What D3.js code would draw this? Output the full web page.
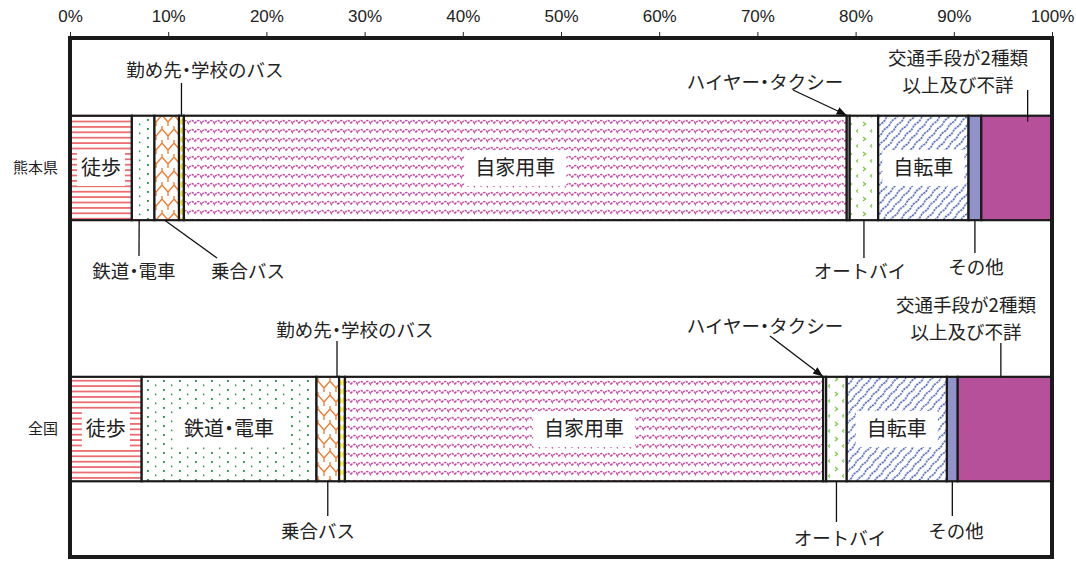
<!DOCTYPE html>
<html><head><meta charset="utf-8">
<script src="https://cdn.jsdelivr.net/npm/d3@7"></script>
<style>body{margin:0;background:#fff}svg{display:block}.jp{font-feature-settings:"halt" 1}</style>
</head><body><svg id="c" width="1076" height="565"></svg>
<script>
// ---- data ----
const regions = ["熊本県", "全国"];
const modes = ["徒歩", "鉄道・電車", "乗合バス", "勤め先・学校のバス", "自家用車", "ハイヤー・タクシー", "オートバイ", "自転車", "その他", "交通手段が2種類以上及び不詳"];
const kumamoto = [6.3, 2.3, 2.5, 0.5, 67.5, 0.3, 2.9, 9.2, 1.3, 7.2];
const zenkoku = [7.3, 17.8, 2.3, 0.6, 48.7, 0.3, 2.1, 10.2, 1.1, 9.6];
const tickValues = [0, 10, 20, 30, 40, 50, 60, 70, 80, 90, 100];
const insideLabels = { "熊本県": ["徒歩", "自家用車", "自転車"], "全国": ["徒歩", "鉄道・電車", "自家用車", "自転車"] };

// ---- layout (callouts) ----
const callouts = {
  "熊本県": [
    { mode: "勤め先・学校のバス", lines: ["勤め先・学校のバス"], tx: 205, ty: 70, side: "top", y2: 83 },
    { mode: "鉄道・電車", lines: ["鉄道・電車"], tx: 134, ty: 271, side: "bottom", x2: 139, y2: 256, dx: -4 },
    { mode: "乗合バス", lines: ["乗合バス"], tx: 248, ty: 271, side: "bottom", x2: 217, y2: 258, dx: -2 },
    { mode: "ハイヤー・タクシー", lines: ["ハイヤー・タクシー"], tx: 765, ty: 82, side: "top", x2: 793, y2: 90, arrow: true },
    { mode: "交通手段が2種類以上及び不詳", lines: ["交通手段が2種類", "以上及び不詳"], tx: 958, ty: 58, side: "top", y2: 90, dx: 11, into: 6 },
    { mode: "オートバイ", lines: ["オートバイ"], tx: 860, ty: 271, side: "bottom", y2: 258 },
    { mode: "その他", lines: ["その他"], tx: 976, ty: 267, side: "bottom", y2: 253 }
  ],
  "全国": [
    { mode: "勤め先・学校のバス", lines: ["勤め先・学校のバス"], tx: 355, ty: 330, side: "top", y2: 341, dx: -5 },
    { mode: "ハイヤー・タクシー", lines: ["ハイヤー・タクシー"], tx: 765, ty: 326, side: "top", x2: 770, y2: 336, arrow: true },
    { mode: "交通手段が2種類以上及び不詳", lines: ["交通手段が2種類", "以上及び不詳"], tx: 966, ty: 305, side: "top", y2: 343, dx: -4 },
    { mode: "乗合バス", lines: ["乗合バス"], tx: 318, ty: 531, side: "bottom", y2: 516 },
    { mode: "オートバイ", lines: ["オートバイ"], tx: 840, ty: 538, side: "bottom", y2: 522 },
    { mode: "その他", lines: ["その他"], tx: 956, ty: 531, side: "bottom", y2: 516 }
  ]
};

const M = { left: 70, right: 1052, top: 38, bottom: 557 };
const svg = d3.select("#c");
const FONT = "'Noto Sans CJK JP','Noto Sans',sans-serif";

const x = d3.scaleLinear().domain([0, 100]).range([M.left, M.right]);
const y = d3.scaleBand().domain(regions).range([M.top + 2, M.bottom]).paddingInner(0.6).paddingOuter(0.29);

// ---- patterns ----
const defs = svg.append("defs");
function pat(id, w, h, draw, tf) {
  const p = defs.append("pattern").attr("id", id).attr("patternUnits", "userSpaceOnUse")
    .attr("width", w).attr("height", h);
  if (tf) p.attr("patternTransform", tf);
  p.append("rect").attr("width", w).attr("height", h).attr("fill", "#fff");
  draw(p);
}
pat("p0", 10, 5.4, p => p.append("path").attr("d", "M0,2.7H10").attr("stroke", "#e3262b").attr("stroke-width", 1.2));
pat("p1", 16, 9, p => {
  p.append("rect").attr("x", 3).attr("y", 2).attr("width", 1.8).attr("height", 1.9).attr("fill", "#1f8f4e");
  p.append("rect").attr("x", 11).attr("y", 6.5).attr("width", 1.3).attr("height", 1.7).attr("fill", "#1f8f4e");
});
pat("p2", 12, 14, p => {
  p.append("path").attr("d", "M0,10 L6,3 L12,10 M6,3 V0 M0,10 V14 M12,10 V14").attr("fill", "none")
    .attr("stroke", "#f2782a").attr("stroke-width", 1.3);
});
pat("p3", 6, 9, p => {
  p.append("ellipse").attr("cx", 3).attr("cy", 4.5).attr("rx", 2.6).attr("ry", 3.6).attr("fill", "#ece21e");
});
pat("p4", 13, 9, p => {
  p.append("path").attr("d", "M0,6.5 Q3.25,0.5 6.5,6.5 Q9.75,0.5 13,6.5").attr("fill", "none")
    .attr("stroke", "#c447a2").attr("stroke-width", 1.5).attr("stroke-dasharray", "2.4,1");
});
pat("p5", 4, 4, p => {});
pat("p6", 14, 15, p => {
  p.append("path").attr("d", "M9,2 L11.5,4 L9,6").attr("fill", "none").attr("stroke", "#7ac943").attr("stroke-width", 1.3);
  p.append("path").attr("d", "M4,9.5 L2.5,11 L4,12.5").attr("fill", "none").attr("stroke", "#7ac943").attr("stroke-width", 1.1);
});
pat("p7", 12, 6.5, p => {
  p.append("path").attr("d", "M0,3.2 Q3,2.2 6,3.2 Q9,4.2 12,3.2").attr("fill", "none")
    .attr("stroke", "#3553b0").attr("stroke-width", 1.4).attr("stroke-dasharray", "2.2,0.8");
}, "rotate(-48)");

const fills = ["url(#p0)", "url(#p1)", "url(#p2)", "url(#p3)", "url(#p4)", "url(#p5)", "url(#p6)", "url(#p7)", "#9292cb", "#b7509b"];

// ---- stacking ----
const table = regions.map((r, i) => {
  const vals = i === 0 ? kumamoto : zenkoku;
  const row = { region: r };
  modes.forEach((m, j) => row[m] = vals[j]);
  return row;
});
const stack = d3.stack().keys(modes)(table);

svg.append("rect").attr("x", M.left).attr("y", M.top).attr("width", M.right - M.left)
  .attr("height", M.bottom - M.top).attr("fill", "#fff");

const g = svg.append("g");
stack.forEach((layer, j) => {
  g.selectAll(null).data(layer).enter().append("rect")
    .attr("x", d => x(d[0])).attr("y", d => y(d.data.region))
    .attr("width", d => x(d[1]) - x(d[0])).attr("height", y.bandwidth())
    .attr("fill", fills[j]).attr("stroke", "#1a1a1a").attr("stroke-width", 2.2);
});

// inside labels
regions.forEach((r, i) => {
  insideLabels[r].forEach(m => {
    const j = modes.indexOf(m);
    const d = stack[j][i];
    const cx = (x(d[0]) + x(d[1])) / 2, cy = y(r) + y.bandwidth() / 2;
    const t = svg.append("text").attr("class", "jp").attr("x", cx).attr("y", cy).attr("dy", "0.36em")
      .attr("text-anchor", "middle").attr("font-family", FONT).attr("font-size", 20)
      .attr("fill", "#222").text(m);
    const bb = t.node().getBBox();
    const padX = m === "徒歩" ? 4 : 11;
    svg.insert("rect", () => t.node()).attr("x", bb.x - padX).attr("y", cy - 18)
      .attr("width", bb.width + padX * 2).attr("height", 36).attr("fill", "#fff");
  });
});

svg.append("rect").attr("x", M.left).attr("y", M.top).attr("width", M.right - M.left)
  .attr("height", M.bottom - M.top).attr("fill", "none").attr("stroke", "#1a1a1a").attr("stroke-width", 4);

const ax = svg.append("g").attr("transform", `translate(0,${M.top})`)
  .call(d3.axisTop(x).tickValues(tickValues).tickFormat(d => d + "%").tickSize(6).tickPadding(10));
ax.select(".domain").remove();
ax.selectAll("line").attr("stroke", "#222");
ax.selectAll("text").attr("font-family", "'Liberation Sans Narrow','Liberation Sans',Arial,sans-serif").attr("font-size", 17)
  .attr("fill", "#222").attr("dy", "0em");

const ay = svg.append("g").attr("transform", `translate(${M.left},0)`)
  .call(d3.axisLeft(y).tickSize(0).tickPadding(12));
ay.select(".domain").remove();
ay.selectAll("text").attr("font-family", FONT).attr("font-size", 15).attr("fill", "#222");

defs.append("marker").attr("id", "arr").attr("viewBox", "0 0 10 10").attr("refX", 9).attr("refY", 5)
  .attr("markerWidth", 10).attr("markerHeight", 10).attr("orient", "auto").attr("markerUnits", "userSpaceOnUse")
  .append("path").attr("d", "M0,1 L10,5 L0,9 Z").attr("fill", "#111");

regions.forEach((r, i) => {
  callouts[r].forEach(c => {
    const j = modes.indexOf(c.mode);
    const d = stack[j][i];
    const sx = (x(d[0]) + x(d[1])) / 2 + (c.dx || 0);
    const sy = c.side === "top" ? y(r) + (c.into || 0) : y(r) + y.bandwidth();
    const x2 = c.x2 !== undefined ? c.x2 : sx;
    const l = svg.append("line").attr("stroke", "#111").attr("stroke-width", 1.3);
    if (c.arrow) {
      l.attr("x1", x2).attr("y1", c.y2).attr("x2", x(d[0]) - 1).attr("y2", sy - 1).attr("marker-end", "url(#arr)");
    } else {
      l.attr("x1", sx).attr("y1", sy).attr("x2", x2).attr("y2", c.y2);
    }
    c.lines.forEach((ln, k) => {
      svg.append("text").attr("class", "jp").attr("x", c.tx).attr("y", c.ty + k * 27).attr("dy", "0.36em")
        .attr("text-anchor", "middle").attr("font-family", FONT).attr("font-size", 18.5)
        .attr("fill", "#222").text(ln);
    });
  });
});
</script></body></html>
